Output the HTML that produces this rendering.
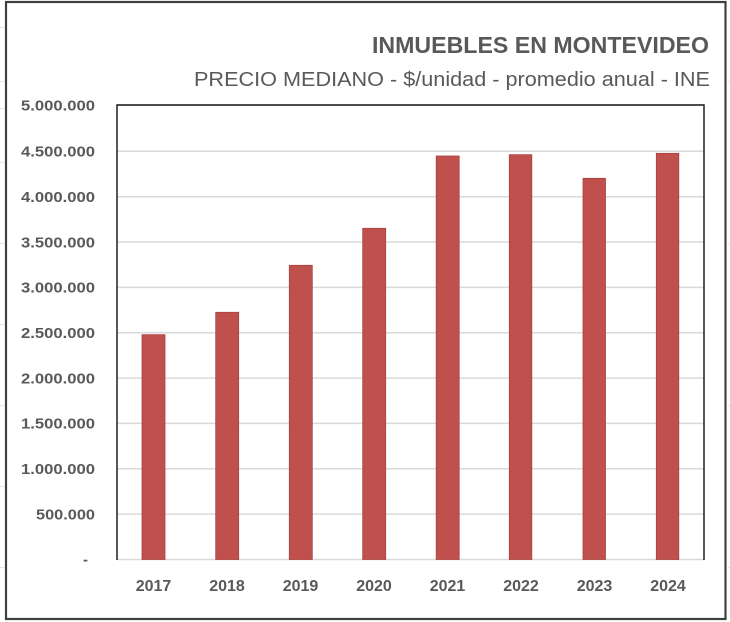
<!DOCTYPE html>
<html>
<head>
<meta charset="utf-8">
<style>
  html,body{margin:0;padding:0;background:#fff;}
  body{width:730px;height:622px;overflow:hidden;}
  svg{display:block;}
  text{font-family:"Liberation Sans",Arial,sans-serif;fill:#595959;}
</style>
</head>
<body>
<svg width="730" height="622" viewBox="0 0 730 622" xmlns="http://www.w3.org/2000/svg">
  <rect x="0" y="0" width="730" height="622" fill="#fff"/>
  <!-- faint cell lines outside frame -->
  <g stroke="#e4e4e4" stroke-width="1">
    <line x1="0" y1="27.5" x2="4" y2="27.5"/>
    <line x1="0" y1="81.5" x2="4" y2="81.5"/>
    <line x1="0" y1="108.5" x2="4" y2="108.5"/>
    <line x1="0" y1="162.5" x2="4" y2="162.5"/>
    <line x1="0" y1="243.5" x2="4" y2="243.5"/>
    <line x1="0" y1="324.5" x2="4" y2="324.5"/>
    <line x1="0" y1="405.5" x2="4" y2="405.5"/>
    <line x1="0" y1="486.5" x2="4" y2="486.5"/>
    <line x1="0" y1="567.5" x2="4" y2="567.5"/>
    <line x1="728" y1="81.5" x2="730" y2="81.5"/>
    <line x1="728" y1="243.5" x2="730" y2="243.5"/>
    <line x1="728" y1="405.5" x2="730" y2="405.5"/>
    <line x1="728" y1="567.5" x2="730" y2="567.5"/>
  </g>
  <!-- outer frame -->
  <rect x="6" y="2" width="719.5" height="617" fill="#fff" stroke="#3f3f3f" stroke-width="2.2"/>

  <!-- titles -->
  <text x="709" y="53" text-anchor="end" font-size="23" font-weight="bold" textLength="337" lengthAdjust="spacingAndGlyphs">INMUEBLES EN MONTEVIDEO</text>
  <text x="710" y="86" text-anchor="end" font-size="20" textLength="516" lengthAdjust="spacingAndGlyphs">PRECIO MEDIANO - $/unidad - promedio anual - INE</text>

  <!-- gridlines -->
  <g stroke="#d9d9d9" stroke-width="1.5">
    <line x1="117" y1="151.3" x2="704" y2="151.3"/>
    <line x1="117" y1="196.7" x2="704" y2="196.7"/>
    <line x1="117" y1="242" x2="704" y2="242"/>
    <line x1="117" y1="287.4" x2="704" y2="287.4"/>
    <line x1="117" y1="332.7" x2="704" y2="332.7"/>
    <line x1="117" y1="378.1" x2="704" y2="378.1"/>
    <line x1="117" y1="423.4" x2="704" y2="423.4"/>
    <line x1="117" y1="468.8" x2="704" y2="468.8"/>
    <line x1="117" y1="514.1" x2="704" y2="514.1"/>
    <line x1="117" y1="559.5" x2="704" y2="559.5"/>
  </g>

  <!-- bars -->
  <g fill="#c0504d" stroke="#a9413e" stroke-width="0.8">
    <rect x="142" y="334.7" width="23" height="224.8"/>
    <rect x="215.7" y="312.3" width="23" height="247.2"/>
    <rect x="289.3" y="265.3" width="23" height="294.2"/>
    <rect x="362.7" y="228.3" width="23" height="331.2"/>
    <rect x="436.2" y="156" width="23" height="403.5"/>
    <rect x="509.3" y="154.7" width="22.5" height="404.8"/>
    <rect x="583" y="178.3" width="22.5" height="381.2"/>
    <rect x="656.3" y="153.3" width="22.5" height="406.2"/>
  </g>

  <!-- plot border (top, left, right) -->
  <path d="M117 560 L117 105 L704 105 L704 560" fill="none" stroke="#111" stroke-width="1.4"/>

  <!-- y labels -->
  <g font-size="15" font-weight="bold" text-anchor="end">
    <text x="95" y="110.5" textLength="74" lengthAdjust="spacingAndGlyphs">5.000.000</text>
    <text x="95" y="156.5" textLength="74" lengthAdjust="spacingAndGlyphs">4.500.000</text>
    <text x="95" y="202" textLength="74" lengthAdjust="spacingAndGlyphs">4.000.000</text>
    <text x="95" y="247.3" textLength="74" lengthAdjust="spacingAndGlyphs">3.500.000</text>
    <text x="95" y="292.7" textLength="74" lengthAdjust="spacingAndGlyphs">3.000.000</text>
    <text x="95" y="338" textLength="74" lengthAdjust="spacingAndGlyphs">2.500.000</text>
    <text x="95" y="383.4" textLength="74" lengthAdjust="spacingAndGlyphs">2.000.000</text>
    <text x="95" y="428.7" textLength="74" lengthAdjust="spacingAndGlyphs">1.500.000</text>
    <text x="95" y="474.1" textLength="74" lengthAdjust="spacingAndGlyphs">1.000.000</text>
    <text x="95" y="519.4" textLength="59" lengthAdjust="spacingAndGlyphs">500.000</text>
    <text x="88" y="564.5">-</text>
  </g>

  <!-- x labels -->
  <g font-size="16" font-weight="bold" text-anchor="middle">
    <text x="153.5" y="591">2017</text>
    <text x="227" y="591">2018</text>
    <text x="300.5" y="591">2019</text>
    <text x="374" y="591">2020</text>
    <text x="447.5" y="591">2021</text>
    <text x="521" y="591">2022</text>
    <text x="594.5" y="591">2023</text>
    <text x="668" y="591">2024</text>
  </g>
</svg>
</body>
</html>
